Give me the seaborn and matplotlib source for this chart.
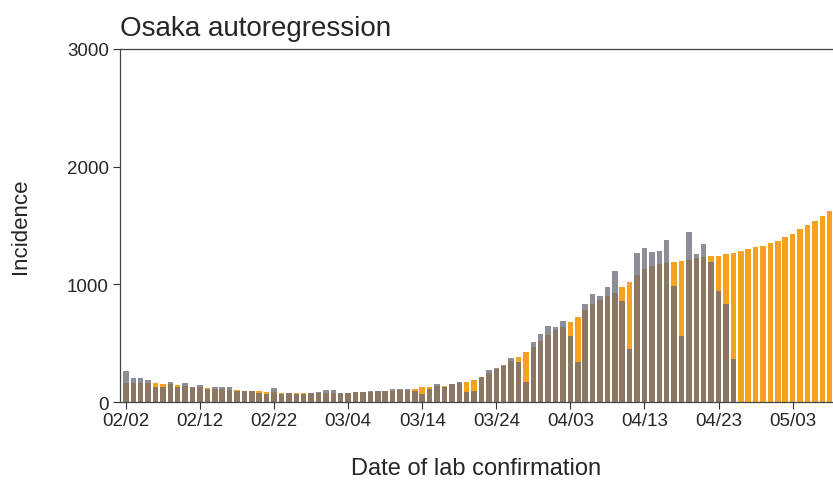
import pandas as pd
import seaborn as sns
import matplotlib.pyplot as plt

# daily values (2021-02-02 .. 2021-05-08)
fitted = [160, 165, 165, 160, 158, 155, 150, 145, 140, 130,
          125, 120, 115, 110, 105, 100, 95, 90, 90, 85,
          82, 80, 78, 75, 75, 75, 76, 78, 80, 80,
          80, 82, 85, 88, 90, 92, 95, 100, 105, 110,
          125, 130, 135, 140, 150, 160, 167, 187, 212, 250,
          280, 310, 350, 380, 425, 470, 520, 570, 610, 640,
          680, 720, 780, 830, 870, 900, 930, 975, 1020, 1080,
          1130, 1160, 1175, 1185, 1190, 1200, 1210, 1220, 1230, 1240,
          1245, 1255, 1265, 1280, 1300, 1315, 1330, 1350, 1370, 1400,
          1430, 1470, 1505, 1540, 1580, 1620]

observed = [260, 204, 204, 187, 130, 125, 167, 130, 159, 130,
            147, 110, 130, 125, 125, 90, 90, 90, 77, 68,
            116, 68, 75, 70, 70, 75, 85, 100, 100, 80,
            80, 85, 85, 90, 90, 95, 110, 110, 110, 96,
            70, 110, 150, 130, 150, 167, 85, 90, 212, 275,
            289, 317, 374, 340, 170, 510, 580, 645, 635, 690,
            560, 340, 830, 915, 900, 975, 1115, 860, 450, 1265,
            1310, 1275, 1285, 1375, 985, 560, 1445, 1255, 1340, 1190,
            945, 830, 365]

dates = pd.date_range("2021-02-02", periods=len(fitted)).strftime("%m/%d").tolist()
obs_dates = dates[:len(observed)]

sns.set_style("ticks")
plt.rcParams["font.family"] = ["Liberation Sans", "DejaVu Sans"]

fig = plt.figure(figsize=(8.33, 4.85), dpi=100)
ax = fig.add_axes([0.144, 0.169, 0.856, 0.728])

sns.barplot(x=dates, y=fitted, order=dates, color="#F7A21E", saturation=1,
            width=0.74, errorbar=None, linewidth=0, ax=ax)
sns.barplot(x=obs_dates, y=observed, order=dates, color="#6a6b78", alpha=0.76,
            saturation=1, width=0.74, errorbar=None, linewidth=0, ax=ax)

ax.set_xlim(-0.8, 95.45)
ax.set_ylim(0, 3000)
ax.set_yticks([0, 1000, 2000, 3000])
ax.set_xticks(range(0, 96, 10))
ax.set_xticklabels(dates[::10])
ax.tick_params(labelsize=13.5, length=5, width=0.8, color="#333333")
ax.tick_params(axis="y", pad=3)
ax.tick_params(axis="x", pad=2)

for side in ["left", "bottom", "top"]:
    ax.spines[side].set_color("#444444")
    ax.spines[side].set_linewidth(0.9)
ax.spines["right"].set_visible(False)

ax.set_xlabel("Date of lab confirmation", fontsize=17, labelpad=20)
ax.set_ylabel("Incidence", fontsize=16, labelpad=26)
ax.set_title("Osaka autoregression", fontsize=20, loc="left", pad=10)

fig.savefig("out.png", dpi=100)
